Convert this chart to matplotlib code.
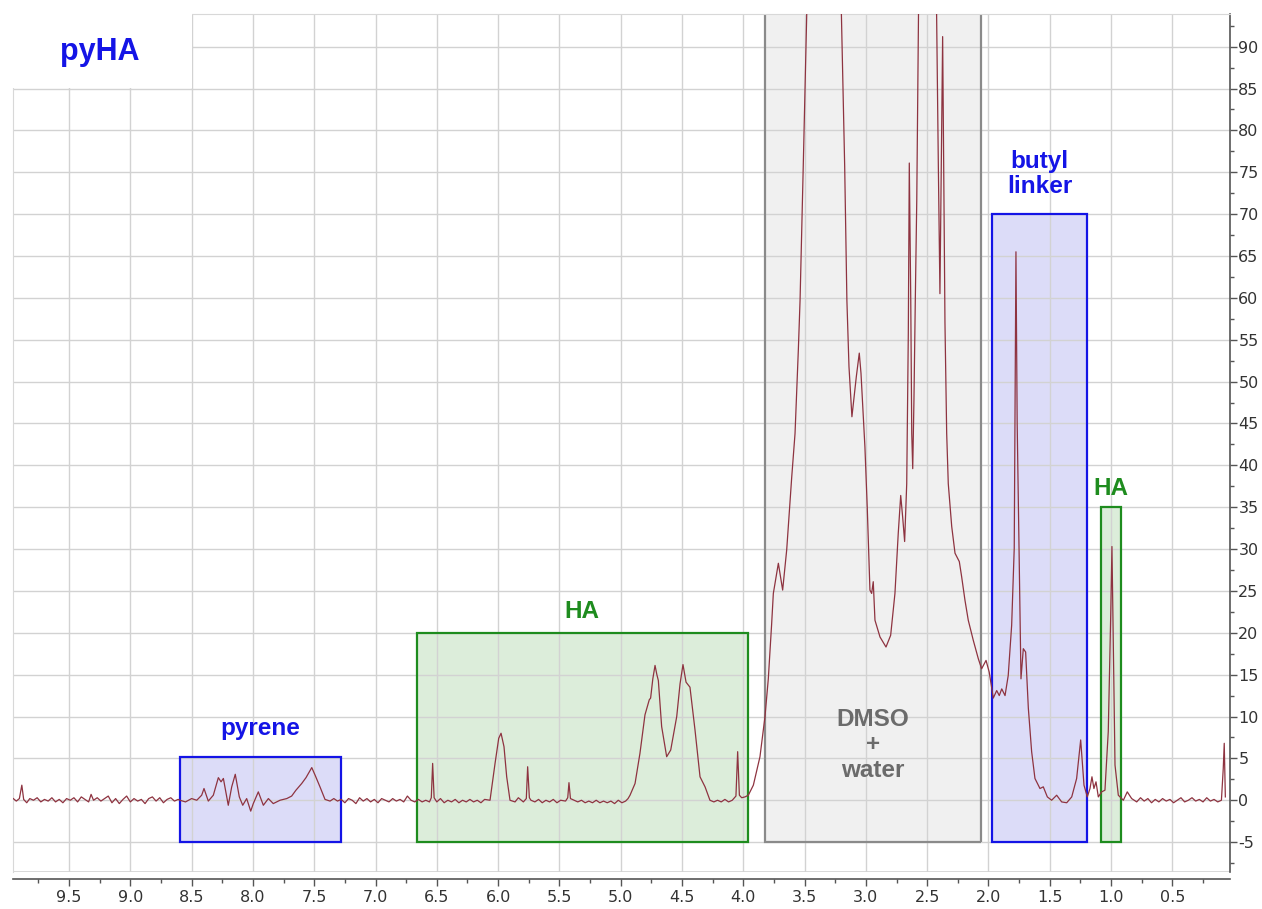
import numpy as np
import matplotlib.pyplot as plt
from matplotlib.patches import Rectangle
from matplotlib.ticker import MultipleLocator, FormatStrFormatter

plt.rcParams['axes.unicode_minus'] = False

# 1H NMR trace of pyHA, (ppm, intensity) pairs in segments, high to low field
low_field = [
    (9.955, 0.2), (9.93, -0.1), (9.905, 0.2), (9.885, 1.8), (9.87, 0.1), (9.845, -0.3),
    (9.82, 0.2), (9.79, 0.0), (9.76, 0.3), (9.73, -0.2), (9.70, 0.1), (9.67, -0.1),
    (9.64, 0.3), (9.61, -0.2), (9.58, 0.1), (9.55, -0.3), (9.52, 0.2), (9.49, 0.0),
    (9.46, 0.3), (9.43, -0.2), (9.40, 0.4), (9.37, 0.1), (9.34, -0.2), (9.32, 0.7),
    (9.30, 0.0), (9.27, 0.3), (9.24, -0.1), (9.21, 0.2), (9.18, 0.5), (9.15, -0.3),
    (9.12, 0.2), (9.09, -0.4), (9.06, 0.1), (9.03, 0.5), (9.00, -0.2), (8.97, 0.2),
    (8.94, -0.1), (8.91, 0.1), (8.88, -0.4), (8.85, 0.2), (8.82, 0.4), (8.79, -0.1),
    (8.76, 0.3), (8.73, -0.3), (8.70, 0.1), (8.67, 0.3), (8.64, -0.1), (8.61, 0.1),
]
pyrene = [
    (8.595, 0.0), (8.55, -0.2), (8.50, 0.2), (8.458, 0.0), (8.418, 0.6), (8.399, 1.4),
    (8.364, -0.1), (8.323, 0.6), (8.282, 2.7), (8.260, 2.2), (8.241, 2.6), (8.201, -0.6),
    (8.173, 1.6), (8.144, 3.1), (8.111, 0.4), (8.083, -0.6), (8.051, 0.2), (8.018, -1.3),
    (7.997, -0.4), (7.956, 1.0), (7.915, -0.6), (7.874, 0.2), (7.834, -0.4), (7.779, 0.0),
    (7.724, 0.2), (7.684, 0.5), (7.649, 1.2), (7.602, 2.0), (7.567, 2.7), (7.520, 3.9),
    (7.493, 3.0), (7.453, 1.6), (7.412, 0.1), (7.371, -0.1),
]
gap = [
    (7.34, 0.2), (7.31, -0.1), (7.28, 0.1), (7.25, -0.3), (7.22, 0.2), (7.19, 0.0),
    (7.16, -0.4), (7.13, 0.3), (7.10, -0.1), (7.07, 0.2), (7.04, -0.2), (7.01, 0.1),
    (6.98, -0.3), (6.95, 0.2), (6.92, 0.0), (6.89, -0.2), (6.86, 0.2), (6.83, -0.1),
    (6.80, 0.1), (6.77, -0.2), (6.74, 0.5), (6.71, 0.0), (6.68, -0.2), (6.65, 0.1),
    (6.62, -0.2), (6.59, 0.0), (6.56, -0.2),
]
ha_sugar = [
    (6.545, 0.3), (6.534, 4.4), (6.522, 0.3), (6.50, -0.2), (6.47, 0.2), (6.44, -0.3),
    (6.41, 0.0), (6.38, -0.2), (6.35, 0.1), (6.32, -0.3), (6.29, 0.0), (6.26, -0.2),
    (6.23, 0.1), (6.20, -0.2), (6.17, 0.0), (6.14, -0.3), (6.11, 0.1), (6.066, 0.0),
    (6.025, 4.4), (5.995, 7.4), (5.976, 8.0), (5.952, 6.4), (5.930, 2.8), (5.903, 0.0),
    (5.862, -0.2), (5.835, 0.3), (5.794, -0.2), (5.770, 0.2), (5.759, 4.0), (5.745, 0.3),
    (5.732, 0.0), (5.70, -0.2), (5.67, 0.1), (5.64, -0.3), (5.61, 0.0), (5.58, -0.2),
    (5.55, 0.1), (5.52, -0.3), (5.49, 0.0), (5.45, -0.1), (5.432, 0.3), (5.422, 2.1),
    (5.410, 0.2), (5.38, 0.0), (5.35, -0.2), (5.32, 0.0), (5.29, -0.3), (5.26, -0.1),
    (5.23, -0.3), (5.20, 0.0), (5.17, -0.3), (5.14, -0.1), (5.11, -0.3), (5.08, -0.1),
    (5.05, -0.4), (5.02, 0.0), (4.99, -0.3), (4.96, -0.1), (4.94, 0.2), (4.924, 0.6),
    (4.883, 2.0), (4.843, 5.6), (4.802, 10.2), (4.767, 12.0), (4.756, 12.2), (4.738, 14.5),
    (4.720, 16.1), (4.705, 15.0), (4.693, 14.3), (4.666, 8.8), (4.625, 5.2), (4.592, 6.0),
    (4.543, 10.0), (4.516, 13.9), (4.492, 16.2), (4.467, 14.1), (4.435, 13.5), (4.394, 8.4),
    (4.353, 2.8), (4.312, 1.6), (4.272, 0.0), (4.24, -0.2), (4.21, 0.0), (4.18, -0.2),
    (4.15, 0.1), (4.12, -0.2), (4.09, 0.0), (4.060, 0.5), (4.046, 5.8), (4.032, 0.6),
    (4.013, 0.3), (3.986, 0.4), (3.959, 0.6),
]
solvent = [
    (3.918, 1.8), (3.864, 5.2), (3.823, 10.0), (3.796, 14.5), (3.769, 21.0), (3.755, 24.7),
    (3.714, 28.3), (3.679, 25.1), (3.646, 29.9), (3.605, 38.6), (3.578, 43.8), (3.551, 53.8),
    (3.537, 59.7), (3.511, 75.7), (3.483, 93.6), (3.46, 115), (3.40, 140), (3.34, 150),
    (3.28, 140), (3.225, 112), (3.200, 94), (3.173, 75.7), (3.155, 59.7), (3.138, 51.8),
    (3.114, 45.8), (3.078, 50.6), (3.054, 53.4), (3.040, 51.0), (3.008, 42.2), (2.989, 35.0),
    (2.967, 25.1), (2.953, 24.7), (2.940, 26.1), (2.926, 21.5), (2.885, 19.5), (2.836, 18.3),
    (2.798, 19.7), (2.763, 24.7), (2.736, 31.9), (2.716, 36.4), (2.700, 33.8), (2.684, 30.9),
    (2.667, 37.8), (2.654, 55.8), (2.646, 76.1), (2.634, 59.7), (2.626, 43.8), (2.618, 39.6),
    (2.608, 47.8), (2.597, 59.7), (2.585, 71.7), (2.567, 100), (2.53, 200), (2.50, 260),
    (2.46, 200), (2.428, 100), (2.409, 75.7), (2.396, 60.5), (2.374, 91.2), (2.355, 57.0),
    (2.341, 43.8), (2.328, 37.8), (2.300, 32.7), (2.273, 29.5), (2.238, 28.5), (2.219, 26.7),
    (2.192, 23.9), (2.165, 21.5), (2.124, 19.1), (2.083, 16.9),
]
butyl = [
    (2.056, 15.7), (2.020, 16.7), (1.994, 15.3), (1.961, 12.2), (1.933, 13.1), (1.912, 12.5),
    (1.892, 13.3), (1.865, 12.5), (1.839, 14.9), (1.811, 20.9), (1.790, 30.1), (1.782, 50.0),
    (1.776, 65.5), (1.766, 45.0), (1.751, 30.0), (1.735, 14.5), (1.716, 18.1), (1.697, 17.7),
    (1.675, 11.0), (1.648, 5.8), (1.621, 2.6), (1.580, 1.4), (1.553, 1.6), (1.520, 0.4),
    (1.485, 0.0), (1.444, 0.6), (1.403, -0.2), (1.362, -0.3), (1.321, 0.4), (1.281, 2.6),
    (1.248, 7.2), (1.221, 1.8), (1.194, 0.4), (1.172, 1.4), (1.156, 2.8), (1.140, 1.4),
    (1.123, 2.2), (1.104, 0.4),
]
ha_acetyl = [
    (1.077, 1.0), (1.050, 1.2), (1.023, 8.2), (1.003, 22.1), (0.993, 30.3), (0.982, 18.9),
    (0.968, 4.2), (0.941, 0.6), (0.900, 0.0), (0.868, 1.0), (0.832, 0.2), (0.791, -0.2),
]
high_field = [
    (0.76, 0.3), (0.73, -0.1), (0.70, 0.2), (0.67, -0.3), (0.64, 0.1), (0.61, -0.2),
    (0.58, 0.2), (0.55, -0.1), (0.52, 0.1), (0.49, -0.3), (0.46, 0.0), (0.43, 0.3),
    (0.40, -0.2), (0.37, 0.0), (0.34, 0.3), (0.31, -0.1), (0.28, 0.1), (0.25, -0.2),
    (0.22, 0.3), (0.19, -0.1), (0.16, 0.1), (0.13, -0.2), (0.10, 0.0), (0.085, 3.8),
    (0.077, 6.8), (0.068, 0.4),
]

# assigned regions
region_names = ['pyrene', 'HA', 'DMSO\n+\nwater', 'butyl\nlinker', 'HA']
region_left = [8.595, 6.664, 3.823, 1.971, 1.085]
region_right = [7.281, 3.964, 2.061, 1.197, 0.919]
region_top = [5.2, 20.0, 96.0, 70.0, 35.0]
region_bottom = -5.0

x_ticks = np.arange(0.5, 9.51, 0.5)
y_ticks = np.arange(-5, 91, 5)

spectrum = np.array(low_field + pyrene + gap + ha_sugar + solvent + butyl + ha_acetyl + high_field)

BLUE = '#1414e6'
GREEN = '#1e8c1e'
GRAY = '#6b6b6b'
edge_cols = [BLUE, GREEN, '#8a8a8a', BLUE, GREEN]
fill_cols = ['#dcdcf8', '#dcedda', '#f0f0f0', '#dcdcf8', '#dcedda']
text_cols = [BLUE, GREEN, GRAY, BLUE, GREEN]
text_y = [8.6, 22.5, 6.6, 74.8, 37.2]

fig = plt.figure(figsize=(12.62, 9.09), dpi=100)
ax = fig.add_axes([13 / 1262, 1 - 872 / 909, 1217 / 1262, 858 / 909])

ax.set_xlim(9.957, 0.03)
ax.set_ylim(-8.57, 93.9)

for i in range(len(region_names)):
    w = region_left[i] - region_right[i]
    h = region_top[i] - region_bottom
    ax.add_patch(Rectangle((region_right[i], region_bottom), w, h,
                           facecolor=fill_cols[i], edgecolor='none', zorder=0.2))
    ax.add_patch(Rectangle((region_right[i], region_bottom), w, h,
                           facecolor='none', edgecolor=edge_cols[i], lw=1.6, zorder=2))
    ax.text((region_left[i] + region_right[i]) / 2, text_y[i], region_names[i],
            ha='center', va='center', color=text_cols[i], fontsize=17.5,
            fontweight='bold', family='Liberation Sans', linespacing=1.15, zorder=4)

ax.plot(spectrum[:, 0], spectrum[:, 1], color='#8e3340', lw=0.9, zorder=3)

ax.set_axisbelow(True)
ax.set_xticks(x_ticks)
ax.xaxis.set_minor_locator(MultipleLocator(0.25))
ax.xaxis.set_major_formatter(FormatStrFormatter('%.1f'))
ax.yaxis.tick_right()
ax.set_yticks(y_ticks)
ax.yaxis.set_minor_locator(MultipleLocator(2.5))
ax.grid(True, which='major', color='#d2d2d2', lw=1.0)

ax.tick_params(axis='both', which='major', length=5, width=1, color='#555555',
               labelsize=11.5, labelcolor='#333333', pad=3)
ax.tick_params(axis='both', which='minor', length=3, width=1, color='#555555')
ax.tick_params(axis='y', which='both', left=False, right=True, labelright=True, pad=1)

# light frame round the plotting area, x-axis line set slightly below it
for side in ['left', 'top']:
    ax.spines[side].set_color('#d8d8d8')
ax.axhline(-8.57, color='#d2d2d2', lw=1.2, zorder=0.4)
ax.spines['right'].set_color('#555555')
ax.spines['right'].set_linewidth(1.2)
ax.spines['bottom'].set_color('#555555')
ax.spines['bottom'].set_linewidth(1.2)
ax.spines['bottom'].set_position(('outward', 5))

# title tab in the upper left corner
fig.patches.append(Rectangle((0, 1 - 88 / 909), 192 / 1262, 88 / 909, transform=fig.transFigure,
                             facecolor='white', edgecolor='none', zorder=5))
fig.text(100 / 1262, 1 - 52 / 909, 'pyHA', ha='center', va='center', color=BLUE,
         fontsize=22, fontweight='bold', family='Liberation Sans', zorder=6)

fig.savefig('out.png', dpi=100)
